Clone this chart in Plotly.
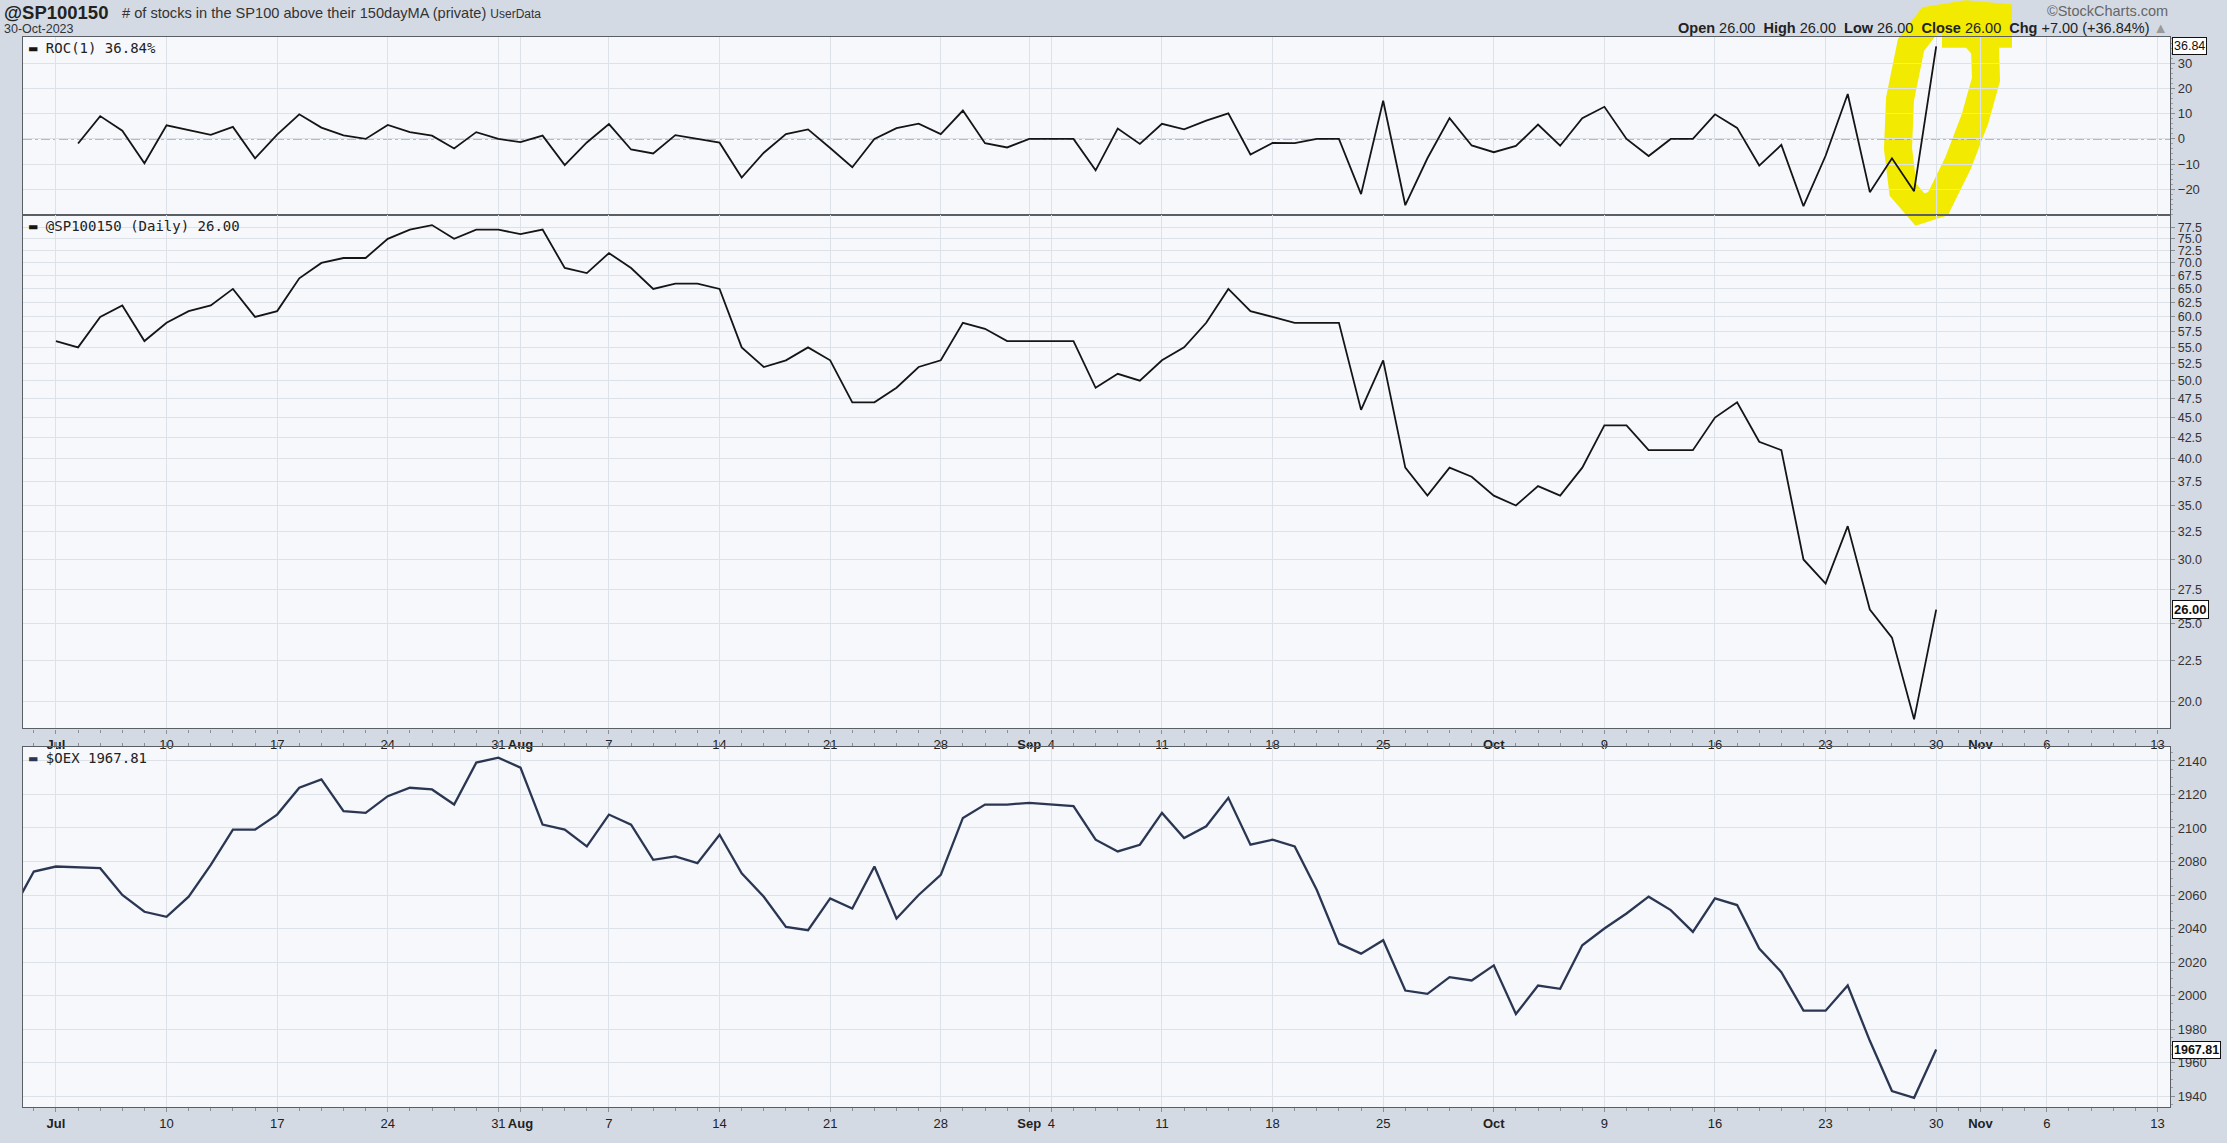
import plotly.graph_objects as go
import pandas as pd

# ---------------- data ----------------
sp_dates = pd.bdate_range("2023-07-03", "2023-10-30").strftime("%Y-%m-%d").tolist()
sp_values = [56, 55, 60, 62, 56, 59, 61, 62, 65, 60,
             61, 67, 70, 71, 71, 75, 77, 78, 75, 77,
             77, 76, 77, 69, 68, 72, 69, 65, 66, 66,
             65, 55, 52, 53, 55, 53, 47, 47, 49, 52,
             53, 59, 58, 56, 56, 56, 56, 49, 51, 50,
             53, 55, 59, 65, 61, 60, 59, 59, 59, 46,
             53, 39, 36, 39, 38, 36, 35, 37, 36, 39,
             44, 44, 41, 41, 41, 45, 47, 42, 41, 30,
             28, 33, 26, 24, 19, 26]
roc_dates = sp_dates[1:]
roc_values = [-1.8, 9.1, 3.3, -9.7, 5.4, 3.4, 1.6, 4.8, -7.7,
              1.7, 9.8, 4.5, 1.4, 0.0, 5.6, 2.7, 1.3, -3.8, 2.7,
              0.0, -1.3, 1.3, -10.4, -1.4, 5.9, -4.2, -5.8, 1.5, 0.0,
              -1.5, -15.4, -5.5, 1.9, 3.8, -3.6, -11.3, 0.0, 4.3, 6.1,
              1.9, 11.3, -1.7, -3.4, 0.0, 0.0, 0.0, -12.5, 4.1, -2.0,
              6.0, 3.8, 7.3, 10.2, -6.2, -1.6, -1.7, 0.0, 0.0, -22.0,
              15.2, -26.4, -7.7, 8.3, -2.6, -5.3, -2.8, 5.7, -2.7, 8.3,
              12.8, 0.0, -6.8, 0.0, 0.0, 9.8, 4.4, -10.6, -2.4, -26.8,
              -6.7, 17.9, -21.2, -7.7, -20.8, 36.84]

oex_dates = ["2023-06-29", "2023-06-30", "2023-07-03", "2023-07-05", "2023-07-06",
             "2023-07-07", "2023-07-10", "2023-07-11", "2023-07-12", "2023-07-13",
             "2023-07-14", "2023-07-17", "2023-07-18", "2023-07-19", "2023-07-20",
             "2023-07-21", "2023-07-24", "2023-07-25", "2023-07-26", "2023-07-27",
             "2023-07-28", "2023-07-31", "2023-08-01", "2023-08-02", "2023-08-03",
             "2023-08-04", "2023-08-07", "2023-08-08", "2023-08-09", "2023-08-10",
             "2023-08-11", "2023-08-14", "2023-08-15", "2023-08-16", "2023-08-17",
             "2023-08-18", "2023-08-21", "2023-08-22", "2023-08-23", "2023-08-24",
             "2023-08-25", "2023-08-28", "2023-08-29", "2023-08-30", "2023-08-31",
             "2023-09-01", "2023-09-05", "2023-09-06", "2023-09-07", "2023-09-08",
             "2023-09-11", "2023-09-12", "2023-09-13", "2023-09-14", "2023-09-15",
             "2023-09-18", "2023-09-19", "2023-09-20", "2023-09-21", "2023-09-22",
             "2023-09-25", "2023-09-26", "2023-09-27", "2023-09-28", "2023-09-29",
             "2023-10-02", "2023-10-03", "2023-10-04", "2023-10-05", "2023-10-06",
             "2023-10-09", "2023-10-10", "2023-10-11", "2023-10-12", "2023-10-13",
             "2023-10-16", "2023-10-17", "2023-10-18", "2023-10-19", "2023-10-20",
             "2023-10-23", "2023-10-24", "2023-10-25", "2023-10-26", "2023-10-27",
             "2023-10-30"]
oex_values = [2050, 2074, 2077, 2076, 2060, 2050, 2047, 2059, 2078, 2099,
              2099, 2108, 2124, 2129, 2110, 2109, 2119, 2124, 2123, 2114,
              2139, 2142, 2136, 2102, 2099, 2089, 2108, 2102, 2081, 2083,
              2079, 2096, 2073, 2059, 2041, 2039, 2058, 2052, 2077, 2046,
              2060, 2072, 2106, 2114, 2114, 2115, 2113, 2093, 2086, 2090,
              2109, 2094, 2101, 2118, 2090, 2093, 2089, 2063, 2031, 2025,
              2033, 2003, 2001, 2011, 2009, 2018, 1989, 2006, 2004, 2030,
              2040, 2049, 2059, 2051, 2038, 2058, 2054, 2028, 2014, 1991,
              1991, 2006, 1973, 1943, 1939, 1967.81]

x_tick_dates = ["2023-07-03", "2023-07-10", "2023-07-17", "2023-07-24", "2023-07-31",
                "2023-08-01", "2023-08-07", "2023-08-14", "2023-08-21", "2023-08-28",
                "2023-09-01", "2023-09-04", "2023-09-11", "2023-09-18", "2023-09-25",
                "2023-10-02", "2023-10-09", "2023-10-16", "2023-10-23", "2023-10-30",
                "2023-11-01", "2023-11-06", "2023-11-13"]
x_tick_text = ["<b>Jul</b>", "10", "17", "24", "31", "<b>Aug</b>", "7", "14", "21", "28",
               "<b>Sep</b>", "4", "11", "18", "25", "<b>Oct</b>", "9", "16", "23", "30",
               "<b>Nov</b>", "6", "13"]
minor_dates = pd.bdate_range("2023-06-29", "2023-11-14").strftime("%Y-%m-%d").tolist()

roc_ticks = [-20, -10, 0, 10, 20, 30]
sp_ticks = [20.0, 22.5, 25.0, 27.5, 30.0, 32.5, 35.0, 37.5, 40.0, 42.5, 45.0, 47.5,
            50.0, 52.5, 55.0, 57.5, 60.0, 62.5, 65.0, 67.5, 70.0, 72.5, 75.0, 77.5]
oex_ticks = [1940, 1960, 1980, 2000, 2020, 2040, 2060, 2080, 2100, 2120, 2140]

# ---------------- geometry / style ----------------
W, H = 2227, 1143
ML, MR, MT, MB = 23, 57, 37, 21
PW, PH = W - ML - MR, H - MT - MB


def pxx(x):
    return (x - ML) / PW


def pyy(y):
    return (H - MB - y) / PH


PAGE = "#d4dae4"
PLOT = "#f6f8fc"
GRID = "#dde1e8"
BORDER = "#5a5e65"
AXF = "Liberation Sans, Arial, sans-serif"
MONO = "DejaVu Sans Mono, monospace"
HF = "Liberation Sans, Arial, sans-serif"

dom_roc = [pyy(218), 1.0]
dom_sp = [pyy(738), pyy(218)]
dom_oex = [0.0, pyy(757)]

fig = go.Figure()
fig.add_trace(go.Scatter(x=roc_dates, y=roc_values, xaxis="x", yaxis="y", mode="lines",
                         line=dict(color="#151515", width=1.8), hoverinfo="skip"))
fig.add_trace(go.Scatter(x=sp_dates, y=sp_values, xaxis="x2", yaxis="y2", mode="lines",
                         line=dict(color="#151515", width=1.8), hoverinfo="skip"))
fig.add_trace(go.Scatter(x=oex_dates, y=oex_values, xaxis="x3", yaxis="y3", mode="lines",
                         line=dict(color="#2b3652", width=2.3), hoverinfo="skip"))

xrange = ["2023-06-29 12:15", "2023-11-13 13:40"]
xbase = dict(type="date", range=xrange, rangebreaks=[dict(bounds=["sat", "mon"])],
             tickmode="array", tickvals=x_tick_dates, ticktext=x_tick_text,
             showgrid=True, gridcolor=GRID, gridwidth=1, zeroline=False,
             showline=True, linecolor=BORDER, linewidth=1.4,
             tickfont=dict(family=AXF, size=13, color="#222"))
minor_x = dict(tickmode="array", tickvals=minor_dates, ticks="outside", ticklen=3,
               tickcolor="#8a8f98", showgrid=False)

ybase = dict(side="right", showgrid=True, gridcolor=GRID, gridwidth=1, zeroline=False,
             showline=True, linecolor=BORDER, linewidth=1.4, mirror=True,
             ticks="outside", ticklen=4, tickcolor="#8a8f98",
             tickfont=dict(family=AXF, size=13, color="#333"))

fig.update_layout(
    width=W, height=H, margin=dict(l=ML, r=MR, t=MT, b=MB),
    paper_bgcolor=PAGE, plot_bgcolor="rgba(0,0,0,0)", showlegend=False,
    xaxis=dict(xbase, anchor="y", showticklabels=False, ticks="", mirror=True),
    xaxis2=dict(xbase, anchor="y2", matches="x", ticks="outside", ticklen=4,
                tickcolor="#8a8f98", mirror=True, minor=minor_x),
    xaxis3=dict(xbase, anchor="y3", matches="x", ticks="outside", ticklen=4,
                tickcolor="#8a8f98", mirror="allticks", minor=minor_x),
    yaxis=dict(ybase, domain=dom_roc, anchor="x", range=[-30.5, 40.6],
               tickmode="array", tickvals=roc_ticks,
               minor=dict(dtick=2, ticks="outside", ticklen=2, tickcolor="#9aa0a8", showgrid=False)),
    yaxis2=dict(ybase, domain=dom_sp, anchor="x2", type="log", range=[1.2676, 1.9040],
                tickmode="array", tickvals=sp_ticks, ticktext=["%.1f" % v for v in sp_ticks],
                tickfont=dict(family=AXF, size=12.5, color="#333")),
    yaxis3=dict(ybase, domain=dom_oex, anchor="x3", range=[1933.5, 2148.3],
                tickmode="array", tickvals=oex_ticks,
                minor=dict(dtick=5, ticks="outside", ticklen=2, tickcolor="#9aa0a8", showgrid=False)),
)

shapes = []
for d in (dom_roc, dom_sp, dom_oex):
    shapes.append(dict(type="rect", xref="paper", yref="paper", x0=0, x1=1, y0=d[0], y1=d[1],
                       fillcolor=PLOT, line=dict(width=0), layer="below"))

# yellow hand-drawn highlight (freehand marker on the original screenshot)
YEL = "rgb(242,234,0)"
hl = [(2010, 18), (1966, 14), (1930, 20), (1911, 45), (1900, 100), (1898, 150),
      (1903, 192), (1920, 212), (1938, 206), (1958, 165), (1975, 120), (1986, 80),
      (1985, 48), (1969, 30)]
path = "M " + " L ".join("%.5f,%.5f" % (pxx(x), pyy(y)) for x, y in hl)
shapes.append(dict(type="path", xref="paper", yref="paper", path=path,
                   line=dict(color=YEL, width=28), layer="below"))
shapes.append(dict(type="rect", xref="paper", yref="paper", x0=pxx(1942), x1=pxx(2012),
                   y0=pyy(48), y1=pyy(4), fillcolor=YEL, line=dict(width=0), layer="below"))
# zero line of ROC
shapes.append(dict(type="line", xref="paper", yref="y", x0=0, x1=1, y0=0, y1=0,
                   line=dict(color="#7d7d7d", width=1.3, dash="dashdot"), layer="below"))
fig.update_layout(shapes=shapes)

ann = []
ann.append(dict(xref="paper", yref="paper", x=pxx(2), y=pyy(12), xanchor="left", yanchor="middle",
                text="<b>@SP100150</b>", showarrow=False, font=dict(family=HF, size=18.5, color="#222")))
ann.append(dict(xref="paper", yref="paper", x=pxx(120), y=pyy(13), xanchor="left", yanchor="middle",
                text="# of stocks in the SP100 above their 150dayMA (private) "
                     "<span style='font-size:12px'>UserData</span>",
                showarrow=False, font=dict(family=HF, size=14.6, color="#333")))
ann.append(dict(xref="paper", yref="paper", x=pxx(2), y=pyy(29), xanchor="left", yanchor="middle",
                text="30-Oct-2023", showarrow=False, font=dict(family=HF, size=12.5, color="#333")))
ann.append(dict(xref="paper", yref="paper", x=1, y=pyy(11), xanchor="right", yanchor="middle",
                text="©StockCharts.com", showarrow=False, font=dict(family=HF, size=14.5, color="#666")))
ann.append(dict(xref="paper", yref="paper", x=1, y=pyy(28), xanchor="right", yanchor="middle",
                text="<b>Open</b> 26.00  <b>High</b> 26.00  <b>Low</b> 26.00  <b>Close</b> 26.00  "
                     "<b>Chg</b> +7.00 (+36.84%) <span style='color:#999'>▲</span>",
                showarrow=False, font=dict(family=HF, size=14.5, color="#222")))

# panel legends
for txt, d, col in (("ROC(1) 36.84%", dom_roc, "#151515"),
                    ("@SP100150 (Daily) 26.00", dom_sp, "#151515"),
                    ("$OEX 1967.81", dom_oex, "#2b3652")):
    ann.append(dict(xref="paper", yref="paper", x=0, y=d[1], xanchor="left", yanchor="top",
                    xshift=4, yshift=-1,
                    text="<span style='color:%s'>▬</span> %s" % (col, txt), showarrow=False,
                    font=dict(family=MONO, size=14, color="#222")))

# last value tags
ann.append(dict(xref="paper", yref="y", x=1, y=36.84, xanchor="left", yanchor="middle", xshift=2,
                text="36.84", showarrow=False, bgcolor="white", bordercolor="#111",
                borderwidth=1, borderpad=1, font=dict(family=AXF, size=12.5, color="#111")))
ann.append(dict(xref="paper", yref="y2", x=1, y=1.41497, xanchor="left", yanchor="middle", xshift=2,
                text="<b>26.00</b>", showarrow=False, bgcolor="white", bordercolor="#111",
                borderwidth=1, borderpad=1, font=dict(family=AXF, size=13, color="#111")))
ann.append(dict(xref="paper", yref="y3", x=1, y=1967.81, xanchor="left", yanchor="middle", xshift=2,
                text="<b>1967.81</b>", showarrow=False, bgcolor="white", bordercolor="#111",
                borderwidth=1, borderpad=1, font=dict(family=AXF, size=12.5, color="#111")))
fig.update_layout(annotations=ann)

fig.write_html("out.html", config={"displayModeBar": False},
               post_script="document.body.style.margin='0';"
                           "document.documentElement.style.overflow='hidden';")
